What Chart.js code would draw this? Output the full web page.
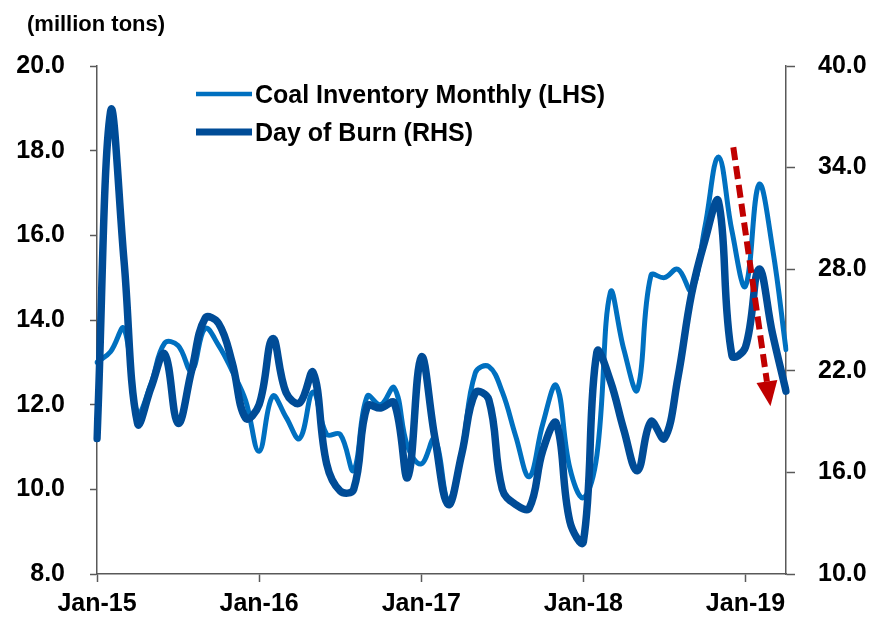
<!DOCTYPE html>
<html><head><meta charset="utf-8">
<script src="https://cdn.jsdelivr.net/npm/chart.js@4.4.1/dist/chart.umd.min.js"></script>
<style>html,body{margin:0;padding:0;background:#fff;}canvas{display:block;}</style>
</head><body>
<canvas id="c" width="876" height="619" style="width:876px;height:619px"></canvas>
<script>
// ---- data ----
const months = [
 'Jan-15','Feb-15','Mar-15','Apr-15','May-15','Jun-15','Jul-15','Aug-15','Sep-15','Oct-15','Nov-15','Dec-15',
 'Jan-16','Feb-16','Mar-16','Apr-16','May-16','Jun-16','Jul-16','Aug-16','Sep-16','Oct-16','Nov-16','Dec-16',
 'Jan-17','Feb-17','Mar-17','Apr-17','May-17','Jun-17','Jul-17','Aug-17','Sep-17','Oct-17','Nov-17','Dec-17',
 'Jan-18','Feb-18','Mar-18','Apr-18','May-18','Jun-18','Jul-18','Aug-18','Sep-18','Oct-18','Nov-18','Dec-18',
 'Jan-19','Feb-19','Mar-19','Apr-19'];
const tickLabels = ['Jan-15','Jan-16','Jan-17','Jan-18','Jan-19'];
const coalInventory = [
 13.0,13.25,13.8,11.8,12.5,13.45,13.4,12.8,13.8,13.4,12.8,12.1,
 10.9,12.2,11.7,11.2,12.3,11.3,11.3,10.45,12.2,12.0,12.4,11.0,
 10.6,11.2,9.75,10.9,12.75,12.9,12.3,11.25,10.3,11.55,12.45,10.5,
 9.8,10.8,14.65,13.3,12.35,15.05,15.0,15.2,14.7,16.2,17.85,16.1,
 14.8,17.2,15.7,13.3];
const daysOfBurn = [
 18.0,37.3,28.5,18.9,21.0,23.0,18.9,22.0,25.1,24.8,22.5,19.2,
 20.0,23.9,20.7,20.1,21.9,16.5,14.9,15.0,19.9,19.8,20.1,15.7,
 22.8,18.1,14.1,17.1,20.7,20.3,15.0,14.1,13.9,17.3,18.9,13.1,
 11.9,23.1,21.4,18.5,16.1,19.0,18.0,21.6,26.5,29.7,32.0,22.9,
 23.4,28.0,24.2,20.8];
const seriesNames = ['Coal Inventory Monthly (LHS)','Day of Burn (RHS)'];
const unitLabel = '(million tons)';
const leftRange = [8, 20, 2];
const rightRange = [10, 40, 6];
const trendArrow = { from: [47.1, 35.2], to: [49.85, 19.9] };

// ---- style ----
const FONT = "'Liberation Sans', Arial, Helvetica, sans-serif";
const AXIS = '#595959';
const legendWidths = [4.5, 7];
Chart.defaults.font.family = FONT;
Chart.defaults.font.weight = 'bold';
Chart.defaults.font.size = 25;
Chart.defaults.color = '#000';

const overlayPlugin = {
  id: 'overlay',
  afterDatasetsDraw(chart) {
    const { ctx } = chart;
    const xs = chart.scales.x, ys = chart.scales.y1;
    const x0 = xs.getPixelForValue(trendArrow.from[0]), y0 = ys.getPixelForValue(trendArrow.from[1]);
    const x1 = xs.getPixelForValue(trendArrow.to[0]), y1 = ys.getPixelForValue(trendArrow.to[1]);
    const ang = Math.atan2(y1 - y0, x1 - x0);
    const hl = 25, hw = 10.5;
    const bx = x1 - hl * Math.cos(ang), by = y1 - hl * Math.sin(ang);
    ctx.save();
    ctx.strokeStyle = '#C00000'; ctx.fillStyle = '#C00000';
    ctx.lineWidth = 6; ctx.setLineDash([13, 6]);
    ctx.beginPath(); ctx.moveTo(x0, y0); ctx.lineTo(bx, by); ctx.stroke();
    ctx.setLineDash([]);
    ctx.beginPath();
    ctx.moveTo(x1, y1);
    ctx.lineTo(bx + hw * Math.sin(ang), by - hw * Math.cos(ang));
    ctx.lineTo(bx - hw * Math.sin(ang), by + hw * Math.cos(ang));
    ctx.closePath(); ctx.fill();
    ctx.restore();
  },
  afterDraw(chart) {
    const { ctx, chartArea: a } = chart;
    ctx.save();
    ctx.font = 'bold 22px ' + FONT;
    ctx.fillStyle = '#000'; ctx.textBaseline = 'middle'; ctx.textAlign = 'left';
    ctx.fillText(unitLabel, a.left - 70, a.top - 41);
    ctx.font = 'bold 25px ' + FONT;
    chart.data.datasets.forEach((ds, i) => {
      const y = a.top + 28 + i * 38;
      ctx.strokeStyle = ds.borderColor; ctx.lineWidth = legendWidths[i];
      ctx.lineCap = 'butt';
      ctx.beginPath(); ctx.moveTo(a.left + 99, y); ctx.lineTo(a.left + 155, y); ctx.stroke();
      ctx.fillText(ds.label, a.left + 158, y + 2);
    });
    ctx.restore();
  }
};

new Chart(document.getElementById('c'), {
  type: 'line',
  data: {
    labels: months,
    datasets: [
      { label: seriesNames[0], data: coalInventory, yAxisID: 'y', borderColor: '#0070C0',
        borderWidth: 5, pointRadius: 0, tension: 0.4, order: 1, fill: false,
        borderCapStyle: 'round', borderJoinStyle: 'round' },
      { label: seriesNames[1], data: daysOfBurn, yAxisID: 'y1', borderColor: '#004C97',
        borderWidth: 7.5, pointRadius: 0, tension: 0.4, order: 0, fill: false,
        borderCapStyle: 'round', borderJoinStyle: 'round' }
    ]
  },
  options: {
    responsive: false, animation: false, devicePixelRatio: 1,
    layout: { padding: { top: 66, left: 0, right: 0, bottom: 0 } },
    plugins: { legend: { display: false }, tooltip: { enabled: false }, title: { display: false } },
    scales: {
      x: {
        type: 'category', offset: false,
        afterBuildTicks: s => { s.ticks = s.ticks.filter(t => tickLabels.includes(months[t.value])); },
        ticks: { autoSkip: false, maxRotation: 0, padding: 7 },
        grid: { drawOnChartArea: false, tickLength: 8, tickColor: AXIS, tickWidth: 1.5, offset: false },
        border: { color: AXIS, width: 1.5 },
        afterFit: s => { s.height = 45; }
      },
      y: {
        position: 'left', min: leftRange[0], max: leftRange[1],
        ticks: { stepSize: leftRange[2], padding: 25, callback: v => v.toFixed(1) },
        grid: { drawOnChartArea: false, tickLength: 7, tickColor: AXIS, tickWidth: 1.5 },
        border: { color: AXIS, width: 1.5 },
        afterFit: s => { s.width = 97; }
      },
      y1: {
        position: 'right', min: rightRange[0], max: rightRange[1],
        ticks: { stepSize: rightRange[2], padding: 23, callback: v => v.toFixed(1) },
        grid: { drawOnChartArea: false, tickLength: 9, tickColor: AXIS, tickWidth: 1.5 },
        border: { color: AXIS, width: 1.5 },
        afterFit: s => { s.width = 90; }
      }
    }
  },
  plugins: [overlayPlugin]
});
</script>
</body></html>
